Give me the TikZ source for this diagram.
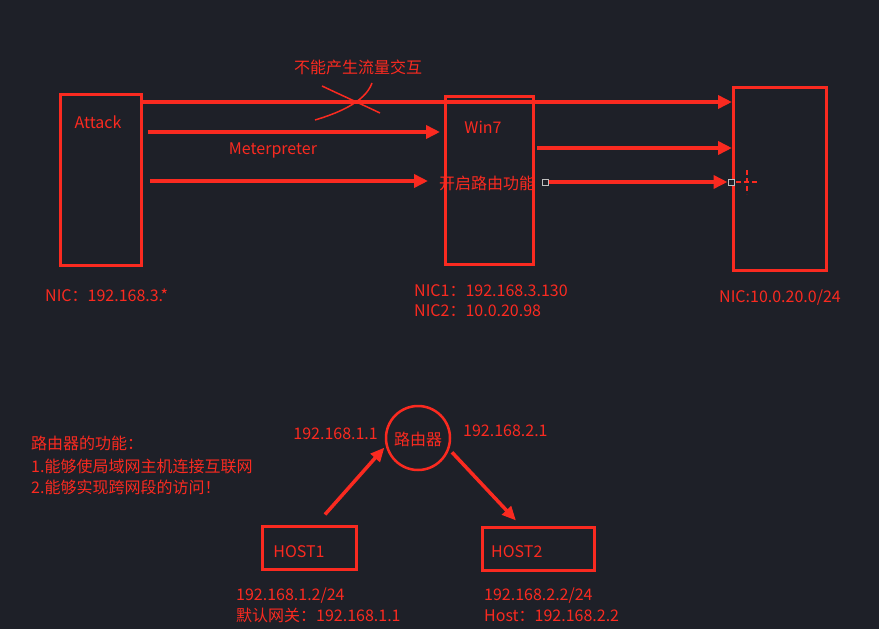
\documentclass[tikz,border=0pt]{standalone}
\usepackage{fontspec}
\setmainfont{Noto Sans CJK SC}
\usetikzlibrary{arrows.meta}
\definecolor{bgc}{RGB}{30,32,40}
\definecolor{redc}{RGB}{250,42,32}
\begin{document}
\begin{tikzpicture}[x=1pt,y=-1pt,
  lbl/.style={text=redc,font=\fontsize{16pt}{20pt}\selectfont,inner sep=0pt,text height=14pt,text depth=2pt},
  box/.style={draw=redc,line width=3pt,inner sep=0pt},
  arr/.style={draw=redc,line width=4pt,-{Triangle[length=14pt,width=13pt]}},
  darr/.style={draw=redc,line width=3.5pt,-{Triangle[length=14pt,width=12pt]}},
  thinred/.style={draw=redc,line width=1.5pt},
  handle/.style={draw=gray!50!white,line width=1pt,minimum size=6pt,inner sep=0pt,fill=bgc}]
\fill[bgc] (0,0) rectangle (879,629);
\useasboundingbox (0,0) rectangle (879,629);

% boxes
\node[box,minimum width=81pt,minimum height=171pt] (attack) at (101,180) {};
\node[box,minimum width=88pt,minimum height=168pt] (win7) at (489.5,180.5) {};
\node[box,minimum width=93pt,minimum height=183pt] (target) at (780,179) {};
\node[box,minimum width=94pt,minimum height=43pt] (host1) at (309.5,548) {};
\node[box,minimum width=112pt,minimum height=43pt] (host2) at (538.5,549) {};
\node[circle,draw=redc,line width=2.5pt,minimum size=64pt,inner sep=0pt] (router) at (418,438) {};

% labels top
\node[lbl] (attacklbl) at (98,122) {Attack};
\node[lbl] (nolbl) at (358,67) {不能产生流量交互};
\node[lbl] (meter) at (273,148) {Meterpreter};
\node[lbl] (win7lbl) at (483,127) {Win7};
\node[lbl] (routelbl) at (487,183) {开启路由功能};
\node[lbl,anchor=west] (nic0) at (45,295) {NIC：192.168.3.*};
\node[lbl,anchor=west] (nic1) at (414,290) {NIC1：192.168.3.130};
\node[lbl,anchor=west] (nic2) at (414,310) {NIC2：10.0.20.98};
\node[lbl] (nic3) at (780,296) {NIC:10.0.20.0/24};

% top arrows
\draw[arr] (attack.east |- 0,102) -- (target.west |- 0,102);
\draw[arr,shorten <=5pt,shorten >=4pt] (attack.east |- 0,132) -- (win7.west |- 0,132);
\draw[arr,shorten <=7pt,shorten >=16pt] (attack.east |- 0,181) -- (win7.west |- 0,181);
\draw[arr,shorten <=2pt] (win7.east |- 0,148) -- (target.west |- 0,148);
\node[handle] (sq1) at (545,182) {};
\node[handle] (sq2) at (731,182) {};
\draw[arr] (sq1.east) -- (sq2.west);
\node[handle] at (731,182) {};

% crossing mark
\draw[thinred] (322,86) .. controls (341,95) and (361,104) .. (380,113);
\draw[thinred] (315,120) .. controls (335,114) and (365,103) .. (372,83);

% dashed crosshair
\draw[redc,line width=1.5pt,dash pattern=on 5pt off 3pt] (736,182) -- (758,182);
\draw[redc,line width=1.5pt,dash pattern=on 5pt off 3pt] (747,170) -- (747,194);

% bottom labels
\node[lbl] (routerlbl) at (418,439) {路由器};
\node[lbl,anchor=east] (gw1) at (378,433) {192.168.1.1};
\node[lbl,anchor=west] (gw2) at (463,430) {192.168.2.1};
\node[lbl] (h1lbl) at (299,551) {HOST1};
\node[lbl,anchor=west] (h2lbl) at (491,551) {HOST2};
\node[lbl,anchor=west] (h1a) at (236,594) {192.168.1.2/24};
\node[lbl,anchor=west] (h1b) at (236,615) {默认网关：192.168.1.1};
\node[lbl,anchor=west] (h2a) at (484,594) {192.168.2.2/24};
\node[lbl,anchor=west] (h2b) at (484,615) {Host：192.168.2.2};
\node[lbl,anchor=west] (f0) at (31,443) {路由器的功能：};
\node[lbl,anchor=west] (f1) at (31,466) {1.能够使局域网主机连接互联网};
\node[lbl,anchor=west] (f2) at (31,487) {2.能够实现跨网段的访问！};

% bottom arrows
\draw[darr,shorten >=2pt] ([shift={(15.5,-10.5)}]host1.north) -- (router.194);
\draw[darr,shorten <=4pt] (router.340) -- ([shift={(-22.5,-5.5)}]host2.north);
\end{tikzpicture}
\end{document}
